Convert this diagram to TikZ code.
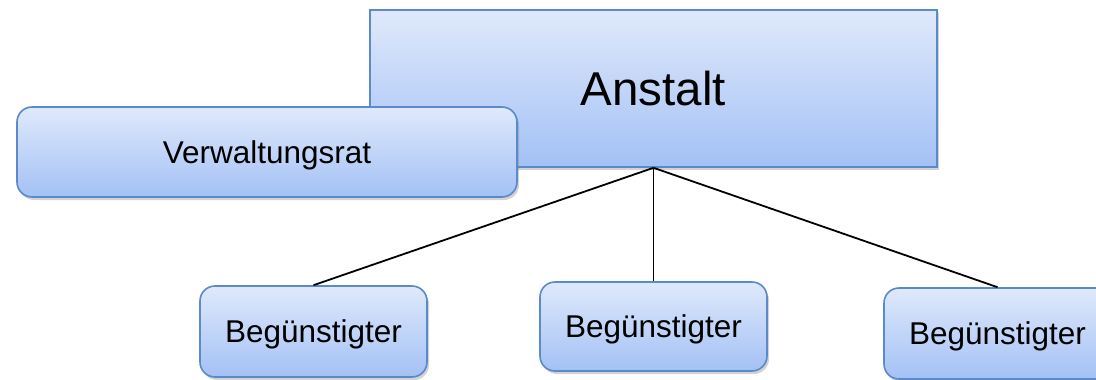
\documentclass[tikz,border=0pt]{standalone}
\usepackage{fontspec}
\setmainfont{Liberation Sans}
\usetikzlibrary{shadows}
\definecolor{boxtop}{HTML}{DFE9FB}
\definecolor{boxbot}{HTML}{A3C1F5}
\definecolor{boxline}{HTML}{5A8AC9}
\begin{document}
\begin{tikzpicture}[x=1pt,y=-1pt,
  base/.style={draw=boxline, line width=1.6pt, top color=boxtop, bottom color=boxbot,
    inner sep=0pt, align=center, text depth=0pt,
    drop shadow={opacity=0.35, shadow xshift=2pt, shadow yshift=-3pt}},
  bigbox/.style={base, minimum width=567pt, minimum height=157pt, text height=34pt, font=\fontsize{47.5}{50}\selectfont},
  roundbox/.style={base, rounded corners=15pt, text height=22.7pt, font=\fontsize{31.5}{34}\selectfont},
  conn/.style={draw=black, line width=1.8pt}]
\useasboundingbox (0,0) rectangle (1096,380);
\node[bigbox] (anstalt) at (653.5,88.5) {Anstalt};
\node[roundbox, minimum width=500pt, minimum height=90pt] (vr) at (267,152) {Verwaltungsrat};
\node[roundbox, minimum width=227pt, minimum height=91pt] (b1) at (313.5,331.5) {Begünstigter};
\node[roundbox, minimum width=227pt, minimum height=89pt] (b2) at (653.5,326.5) {Begünstigter};
\node[roundbox, minimum width=227pt, minimum height=91pt] (b3) at (997.5,333.5) {Begünstigter};
\draw[conn] (anstalt.south) -- (b1.north);
\draw[conn] (anstalt.south) -- (b2.north);
\draw[conn] (anstalt.south) -- (b3.north);
\end{tikzpicture}
\end{document}
